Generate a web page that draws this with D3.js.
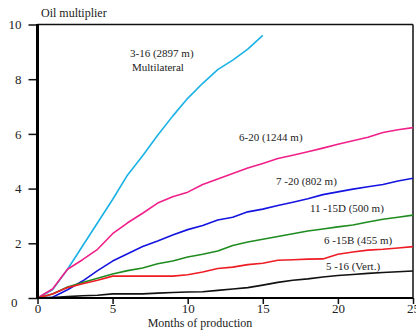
<!DOCTYPE html>
<html>
<head>
<meta charset="utf-8">
<script src="https://cdn.jsdelivr.net/npm/d3@7"></script>
<style>
  body { margin: 0; background: #fff; }
  svg text { font-family: "Liberation Serif", "DejaVu Serif", serif !important; fill: #222; }
</style>
</head>
<body>
<div id="chart"></div>
<script>
// months 0..25
var months = d3.range(0, 26)

var well_3_16 = [0, 0.3, 1.05, 1.9, 2.75, 3.6, 4.5, 5.2, 5.95, 6.65, 7.3, 7.85, 8.35, 8.7, 9.1, 9.6]
var well_6_20 = [0, 0.33, 1.05, 1.4, 1.78, 2.35, 2.75, 3.1, 3.47, 3.7, 3.87, 4.15, 4.35, 4.55, 4.75, 4.92,
    5.1, 5.22, 5.35, 5.48, 5.62, 5.75, 5.88, 6.05, 6.15, 6.23]
var well_7_20 = [0, 0.03, 0.3, 0.62, 1.0, 1.35, 1.62, 1.88, 2.08, 2.3, 2.5, 2.65, 2.85, 2.95, 3.15, 3.25,
    3.38, 3.5, 3.63, 3.78, 3.88, 3.98, 4.07, 4.15, 4.28, 4.38]
var well_11_15D = [0, 0.15, 0.4, 0.57, 0.72, 0.88, 1.0, 1.1, 1.25, 1.35, 1.5, 1.6, 1.72, 1.92, 2.05, 2.15,
    2.25, 2.35, 2.45, 2.52, 2.6, 2.67, 2.78, 2.88, 2.95, 3.03]
var well_6_15B = [0, 0.15, 0.38, 0.52, 0.65, 0.8, 0.8, 0.8, 0.8, 0.8, 0.85, 0.95, 1.08, 1.13, 1.22, 1.27,
    1.38, 1.4, 1.42, 1.43, 1.6, 1.68, 1.75, 1.78, 1.83, 1.88]
var well_5_16 = [0, 0.02, 0.05, 0.08, 0.1, 0.15, 0.15, 0.15, 0.18, 0.2, 0.22, 0.23, 0.28, 0.33, 0.38, 0.47,
    0.57, 0.65, 0.7, 0.77, 0.82, 0.86, 0.9, 0.93, 0.96, 0.99]

var xTicks = [0, 5, 10, 15, 20, 25]
var yTicks = [0, 2, 4, 6, 8, 10]

var series = [
    { name: "3-16", values: well_3_16, color: "#1ab2e6" },
    { name: "6-20", values: well_6_20, color: "#f0208a" },
    { name: "7-20", values: well_7_20, color: "#1414e0" },
    { name: "11-15D", values: well_11_15D, color: "#1f8c1f" },
    { name: "6-15B", values: well_6_15B, color: "#ee1c24" },
    { name: "5-16", values: well_5_16, color: "#111" }
]

var labels = [
    { lines: ["3-16 (2897 m)", "Multilateral"], x: 130, y: 57 },
    { lines: ["6-20 (1244 m)"], x: 239, y: 141 },
    { lines: ["7 -20 (802 m)"], x: 276, y: 185 },
    { lines: ["11 -15D (500 m)"], x: 310, y: 212 },
    { lines: ["6 -15B (455 m)"], x: 324, y: 244 },
    { lines: ["5 -16 (Vert.)"], x: 326, y: 270 }
]

var width = 416, height = 336
var margin = { top: 24.5, right: 3, bottom: 38, left: 37.5 }
var serif = '"Liberation Serif", "DejaVu Serif", serif'

var svg = d3.select("#chart")
    .append("svg")
    .attr("width", width)
    .attr("height", height)

var x = d3.scaleLinear().domain([0, 25]).range([margin.left, width - margin.right])
var y = d3.scaleLinear().domain([0, 10]).range([height - margin.bottom, margin.top])

// frame: thin top and right
svg.append("line")
    .attr("x1", x(0)).attr("x2", x(25))
    .attr("y1", y(10)).attr("y2", y(10))
    .style("stroke", "#111").style("stroke-width", 1.5)
svg.append("line")
    .attr("x1", x(25)).attr("x2", x(25))
    .attr("y1", y(10)).attr("y2", y(0))
    .style("stroke", "#111").style("stroke-width", 1.5)

// lines
var line = d3.line()
    .x(function(d, i) { return x(months[i]) })
    .y(function(d) { return y(d) })

svg.selectAll(".well")
    .data(series)
    .enter()
    .append("path")
    .attr("class", "well")
    .attr("d", function(d) { return line(d.values) })
    .style("fill", "none")
    .style("stroke", function(d) { return d.color })
    .style("stroke-width", 1.6)
    .style("stroke-linejoin", "round")

// axes
var yAxis = svg.append("g")
    .attr("transform", "translate(" + x(0) + ",0)")
    .call(d3.axisLeft(y).tickValues(yTicks).tickSize(9).tickPadding(7))
yAxis.attr("font-family", serif)
yAxis.select(".domain").remove()
yAxis.selectAll(".tick line").style("stroke", "#111").style("stroke-width", 1.5)
yAxis.selectAll(".tick text")
    .style("font-size", "13px")
    .style("font-family", serif)
    .attr("dy", function(d) { return d === 0 ? "0.65em" : "0.32em" })
    .attr("x", function(d) { return d === 0 ? -20 : -16 })

var xAxis = svg.append("g")
    .attr("transform", "translate(0," + y(0) + ")")
    .call(d3.axisBottom(x).tickValues(xTicks).tickSize(6).tickPadding(0))
xAxis.attr("font-family", serif)
xAxis.select(".domain").remove()
xAxis.selectAll(".tick line").style("stroke", "#111").style("stroke-width", 1.5)
xAxis.selectAll(".tick text")
    .style("font-size", "13px")
    .style("font-family", serif)

svg.append("line")
    .attr("x1", x(0)).attr("x2", x(0))
    .attr("y1", y(10) - 0.5).attr("y2", y(0) + 1)
    .style("stroke", "#000").style("stroke-width", 3)
svg.append("line")
    .attr("x1", x(0)).attr("x2", x(25))
    .attr("y1", y(0)).attr("y2", y(0))
    .style("stroke", "#000").style("stroke-width", 2.2)

// titles
svg.append("text")
    .attr("x", 41).attr("y", 17)
    .style("font-size", "12px")
    .style("font-family", serif)
    .text("Oil multiplier")
svg.append("text")
    .attr("x", 200).attr("y", 327)
    .attr("text-anchor", "middle")
    .style("font-size", "12px")
    .style("font-family", serif)
    .text("Months of production")

// curve labels
labels.forEach(function(l) {
    l.lines.forEach(function(s, i) {
        svg.append("text")
            .attr("x", l.x + (i > 0 ? 2 : 0))
            .attr("y", l.y + i * 14)
            .style("font-size", "11px")
            .style("font-family", serif)
            .text(s)
    })
})
</script>
</body>
</html>
